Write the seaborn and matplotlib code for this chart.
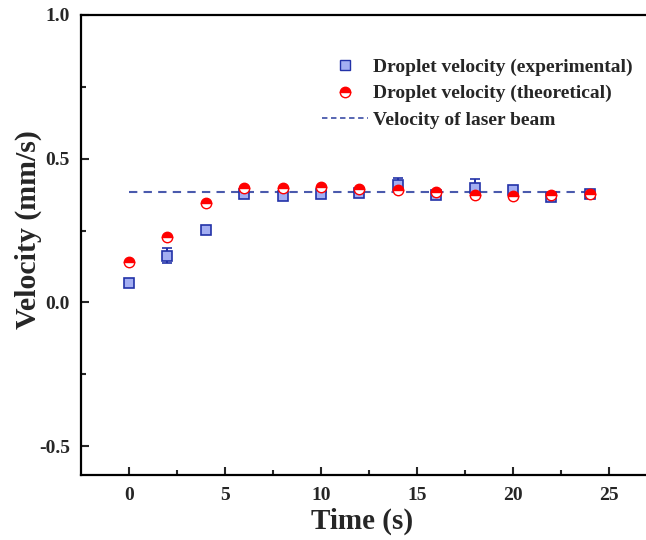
import numpy as np
import pandas as pd
import seaborn as sns
import matplotlib.pyplot as plt
from matplotlib.lines import Line2D

# data
time_s = [0, 2, 4, 6, 8, 10, 12, 14, 16, 18, 20, 22, 24]
v_exp = [0.067, 0.163, 0.252, 0.377, 0.371, 0.378, 0.380, 0.410, 0.375, 0.398, 0.391, 0.368, 0.377]
v_exp_err = [0.010, 0.027, 0.010, 0.015, 0.012, 0.010, 0.010, 0.022, 0.010, 0.032, 0.010, 0.008, 0.010]
v_theo = [0.142, 0.227, 0.346, 0.397, 0.397, 0.400, 0.394, 0.391, 0.383, 0.375, 0.372, 0.374, 0.377]
v_laser = 0.383

df = pd.DataFrame({"time": time_s, "exp": v_exp, "err": v_exp_err, "theo": v_theo})
df_laser = pd.DataFrame({"time": [time_s[0], time_s[-1]], "v": [v_laser, v_laser]})

sns.set_style("ticks")
plt.rcParams['font.family'] = ['Liberation Serif', 'DejaVu Serif']
plt.rcParams['font.weight'] = 'bold'
plt.rcParams['axes.unicode_minus'] = False

fig = plt.figure(figsize=(6.46, 5.40), dpi=100)
ax = fig.add_axes([0.1254, 0.1204, 0.8916, 0.8519])

blue_edge = "#2232a8"
blue_fill = "#a3aef2"
laser_col = "#4a5aad"

# laser beam velocity
sns.lineplot(data=df_laser, x="time", y="v", ax=ax, color=laser_col, linestyle=(0, (4, 3)),
             linewidth=1.5, legend=False, zorder=1)

# experimental with error bars
ax.errorbar(df["time"], df["exp"], yerr=df["err"], fmt="s", ms=6.5, mfc=blue_fill, mec=blue_edge,
            mew=1.2, ecolor=blue_edge, elinewidth=1.4, capsize=3.5, capthick=1.4, zorder=2)

# theoretical, half-filled circles
ax.plot(df["time"], df["theo"], linestyle="", marker="o", ms=7.5, fillstyle="top",
        mfc="#ff0000", mfcalt="white", mec="#ff0000", mew=1.0, zorder=3)

ax.set_xlim(-2.5, 27.5)
ax.set_ylim(-0.6, 1.0)
ax.set_xticks([0, 5, 10, 15, 20, 25])
ax.set_xticks(np.arange(2.5, 27.5, 5), minor=True)
ax.set_yticks([-0.5, 0.0, 0.5, 1.0])
ax.set_yticks([-0.25, 0.25, 0.75], minor=True)
ax.tick_params(which="major", direction="in", length=6, width=1.5, labelsize=14, pad=9)
ax.tick_params(which="minor", direction="in", length=3.5, width=1.5)
ax.tick_params(axis="y", pad=8)
for lbl in ax.get_xticklabels() + ax.get_yticklabels():
    lbl.set_fontweight("bold")
for sp in ax.spines.values():
    sp.set_linewidth(1.6)
    sp.set_color("black")

ax.set_xlabel("Time (s)", fontsize=21, fontweight="bold")
ax.set_ylabel("Velocity (mm/s)", fontsize=21.5, fontweight="bold")
ax.xaxis.set_label_coords(0.488, -0.07)
ax.yaxis.set_label_coords(-0.068, 0.533)

handles = [
    Line2D([], [], linestyle="", marker="s", ms=6.5, mfc=blue_fill, mec=blue_edge, mew=1.0),
    Line2D([], [], linestyle="", marker="o", ms=7.5, fillstyle="top", mfc="#ff0000",
           mfcalt="white", mec="#ff0000", mew=1.0),
    Line2D([], [], color=laser_col, linestyle=(0, (3, 2)), linewidth=1.3),
]
labels = ["Droplet velocity (experimental)", "Droplet velocity (theoretical)", "Velocity of laser beam"]
leg = ax.legend(handles, labels, loc="upper left", bbox_to_anchor=(0.486, 0.906),
                bbox_transform=fig.transFigure, frameon=False, fontsize=14,
                handlelength=2.4, handletextpad=0.22, labelspacing=0.44, borderaxespad=0)
for t in leg.get_texts():
    t.set_fontweight("bold")

fig.savefig("out.png", dpi=100)
